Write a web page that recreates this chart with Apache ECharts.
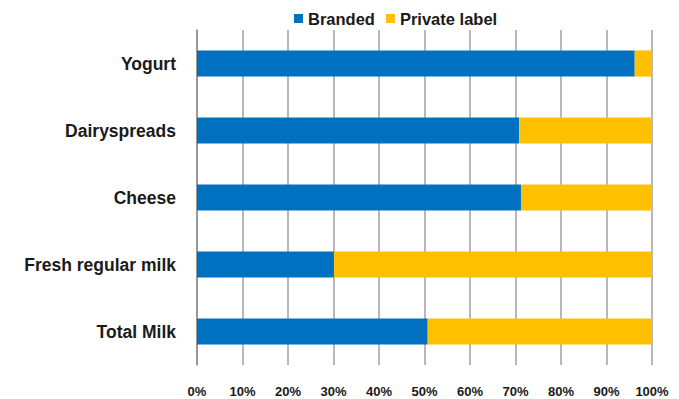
<!DOCTYPE html>
<html>
<head>
<meta charset="utf-8">
<script src="https://cdn.jsdelivr.net/npm/echarts@6/dist/echarts.min.js"></script>
<style>
  html, body { margin: 0; padding: 0; background: #fff; }
  #chart { width: 679px; height: 399px; }
</style>
</head>
<body>
<div id="chart"></div>
<script>
// Shares per category (percent)
const categories = [ 'Yogurt', 'Dairyspreads', 'Cheese', 'Fresh regular milk', 'Total Milk' ];
const branded = [ 96.2, 70.8, 71.2, 30.1, 50.7 ];
const privateLabel = [ 3.8, 29.2, 28.8, 69.9, 49.3 ];

const font = '"Liberation Sans", Arial, sans-serif';
const chart = echarts.init( document.getElementById( 'chart' ), null, { renderer: 'svg' } );

chart.setOption( {
	animation: false,
	textStyle: { fontFamily: font },
	legend: {
		top: 5,
		left: 289,
		itemWidth: 9,
		itemHeight: 9,
		itemGap: 11,
		icon: 'rect',
		textStyle: { fontFamily: font, fontWeight: 'bold', fontSize: 16.5, color: '#1a1a1a' },
		data: [ 'Branded', 'Private label' ]
	},
	grid: { left: 197, right: 27, top: 30, bottom: 34 },
	xAxis: {
		type: 'value',
		min: 0,
		max: 100,
		interval: 10,
		axisLine: { show: false },
		axisTick: { show: false },
		splitLine: { show: true, lineStyle: { color: '#a0a0a0', width: 1.5 } },
		axisLabel: {
			formatter: '{value}%',
			margin: 20,
			fontFamily: font,
			fontWeight: 'bold',
			fontSize: 13,
			color: '#1a1a1a'
		}
	},
	yAxis: {
		type: 'category',
		inverse: true,
		data: categories,
		axisLine: { show: true, lineStyle: { color: '#8c8c8c', width: 1.5 } },
		axisTick: { show: false },
		axisLabel: {
			margin: 21,
			fontFamily: font,
			fontWeight: 'bold',
			fontSize: 17.5,
			color: '#1a1a1a'
		}
	},
	series: [
		{
			name: 'Branded',
			type: 'bar',
			stack: 'share',
			barWidth: '39%',
			itemStyle: { color: '#0070c0' },
			data: branded
		},
		{
			name: 'Private label',
			type: 'bar',
			stack: 'share',
			barWidth: '39%',
			itemStyle: { color: '#ffc000' },
			data: privateLabel
		}
	]
} );
</script>
</body>
</html>
